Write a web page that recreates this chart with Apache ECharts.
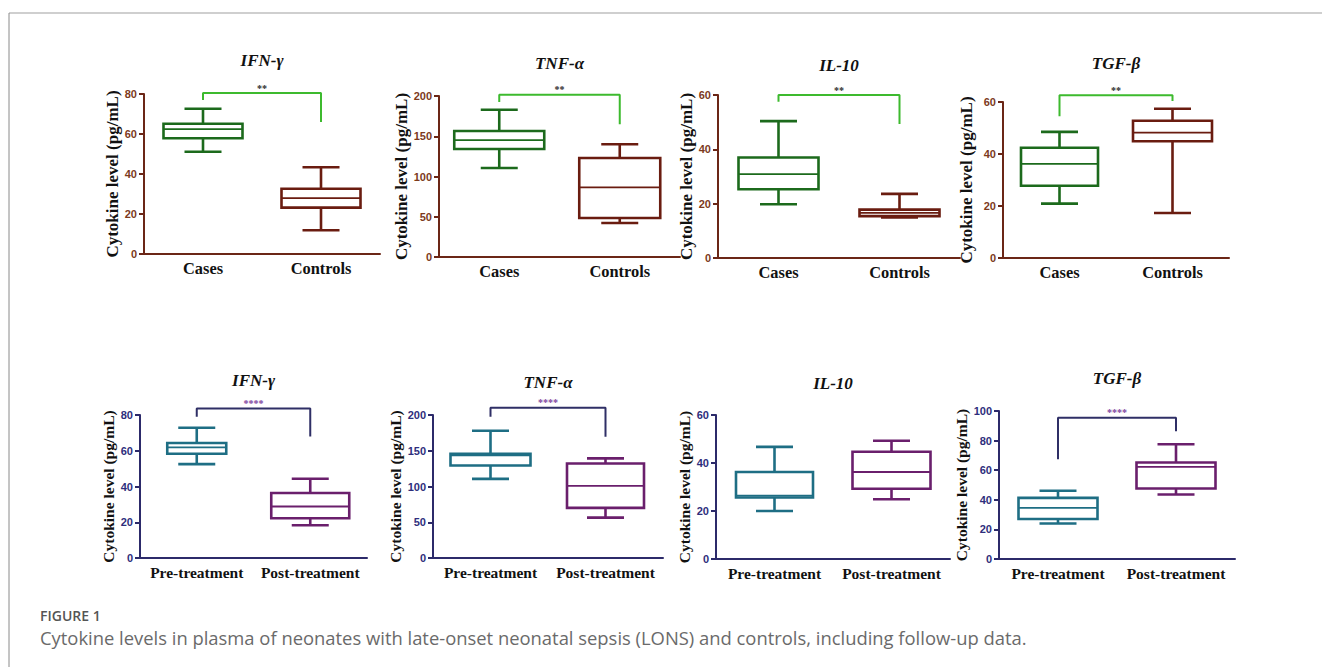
<!DOCTYPE html>
<html>
<head>
<meta charset="utf-8">
<style>
html, body { margin: 0; padding: 0; background: #fff; }
#main { width: 1322px; height: 667px; }
</style>
<script src="https://cdn.jsdelivr.net/npm/echarts@6/dist/echarts.min.js"></script>
</head>
<body>
<div id="main"></div>
<script>
// groups / cytokines
const topGroups = ['Cases', 'Controls'];
const followGroups = ['Pre-treatment', 'Post-treatment'];
const cytokines = ['IFN-γ', 'TNF-α', 'IL-10', 'TGF-β'];

// box values: [min, Q1, median, Q3, max] (pg/mL)
const ifnCases = [51.1, 57.9, 62.4, 65.1, 72.6];
const ifnControls = [11.9, 23.2, 27.9, 32.6, 43.4];
const tnfCases = [110.6, 134.2, 145.3, 156.5, 183];
const tnfControls = [42.2, 48.4, 86.5, 123, 140];
const il10Cases = [19.8, 25.3, 30.9, 37.0, 50.4];
const il10Controls = [14.9, 15.4, 16.6, 17.8, 23.6];
const tgfCases = [20.9, 27.8, 36.2, 42.4, 48.5];
const tgfControls = [17.3, 44.9, 48.2, 52.8, 57.4];

const ifnPre = [52.5, 58.3, 61.9, 64.3, 72.9];
const ifnPost = [18.3, 22.2, 28.8, 36.4, 44.3];
const tnfPre = [110.7, 129.4, 143.5, 145.8, 178];
const tnfPost = [56.5, 70.1, 100.9, 132.2, 139.3];
const il10Pre = [20, 25.6, 26.4, 36.25, 46.7];
const il10Post = [24.9, 29.3, 36.25, 44.7, 49.3];
const tgfPre = [24, 27, 34.6, 41.3, 46.1];
const tgfPost = [43.6, 47.6, 62.2, 65.2, 77.5];

// significance brackets: [left leg end, top, right leg end]
const ifnBracket = [77, 80.5, 66];
const tnfBracket = [192.5, 201.6, 165];
const il10Bracket = [57.5, 60, 49.3];
const tgfBracket = [54.5, 62.6, 60.4];
const ifnFollowBracket = [79, 83.7, 68];
const tnfFollowBracket = [197.7, 210, 169.6];
const tgfFollowBracket = [67.4, 95.5, 86.3];

// y axis ticks: [max, step]
const ticks20to80 = [80, 20];
const ticks50to200 = [200, 50];
const ticks20to60 = [60, 20];
const ticks20to100 = [100, 20];

const serif = '"Liberation Serif", "Times New Roman", serif';
const sans = '"Liberation Sans", Arial, sans-serif';

const rowStyle = [
  { axis: '#6b2616', label: '#7c3a1c', colors: ['#1c6a1c', '#6a1c10'], bracket: '#3dba2e',
    star: '#2b2b2b', stars: '**', nameSize: 17, catSize: 16.4 },
  { axis: '#2c2a6a', label: '#2e2e7c', colors: ['#1e6e84', '#6a1f6c'], bracket: '#2f2f66',
    star: '#7d3f9e', stars: '****', nameSize: 15.5, catSize: 15.5 }
];

const panels = [
  { row: 0, title: cytokines[0], cats: topGroups, boxes: [ifnCases, ifnControls], bracket: ifnBracket, ticks: ticks20to80,
    grid: { left: 144, top: 94, width: 236, height: 160 }, gap: 22, titleY: 60, widths: [79, 79] },
  { row: 0, title: cytokines[1], cats: topGroups, boxes: [tnfCases, tnfControls], bracket: tnfBracket, ticks: ticks50to200,
    grid: { left: 439, top: 96, width: 241, height: 161 }, gap: 29, titleY: 63, widths: [90, 81] },
  { row: 0, title: cytokines[2], cats: topGroups, boxes: [il10Cases, il10Controls], bracket: il10Bracket, ticks: ticks20to60,
    grid: { left: 718, top: 95, width: 242, height: 163 }, gap: 23, titleY: 65, widths: [80, 80] },
  { row: 0, title: cytokines[3], cats: topGroups, boxes: [tgfCases, tgfControls], bracket: tgfBracket, ticks: ticks20to60,
    grid: { left: 1003, top: 102, width: 226, height: 156 }, gap: 28, titleY: 63, widths: [77, 79] },
  { row: 1, title: cytokines[0], cats: followGroups, boxes: [ifnPre, ifnPost], bracket: ifnFollowBracket, ticks: ticks20to80,
    grid: { left: 140, top: 415, width: 227, height: 143 }, gap: 18, titleY: 380, widths: [59, 78] },
  { row: 1, title: cytokines[1], cats: followGroups, boxes: [tnfPre, tnfPost], bracket: tnfFollowBracket, ticks: ticks50to200,
    grid: { left: 433, top: 415, width: 230, height: 143 }, gap: 30, titleY: 382, widths: [80, 77] },
  { row: 1, title: cytokines[2], cats: followGroups, boxes: [il10Pre, il10Post], bracket: null, ticks: ticks20to60,
    grid: { left: 716, top: 415, width: 234, height: 144 }, gap: 23, titleY: 383, widths: [77, 78] },
  { row: 1, title: cytokines[3], cats: followGroups, boxes: [tgfPre, tgfPost], bracket: tgfFollowBracket, ticks: ticks20to100,
    grid: { left: 999, top: 411, width: 236, height: 148 }, gap: 26, titleY: 378, widths: [79, 79] }
];

// box + whiskers with short caps, drawn from the axis scale
function makeBox(widths, colors) {
  return function (params, api) {
    const k = api.value(0);
    const c = colors[params.dataIndex];
    const w = widths[params.dataIndex];
    const cap = 37;
    const p = [1, 2, 3, 4, 5].map(function (d) { return api.coord([k, api.value(d)]); });
    const x = p[0][0];
    const ln = function (x1, y1, x2, y2, lw) {
      return { type: 'line', shape: { x1: x1, y1: y1, x2: x2, y2: y2 }, style: { stroke: c, lineWidth: lw } };
    };
    return {
      type: 'group',
      children: [
        ln(x, p[3][1], x, p[4][1], 2.6),
        ln(x, p[1][1], x, p[0][1], 2.6),
        ln(x - cap / 2, p[4][1], x + cap / 2, p[4][1], 2.6),
        ln(x - cap / 2, p[0][1], x + cap / 2, p[0][1], 2.6),
        { type: 'rect', shape: { x: x - w / 2, y: p[3][1], width: w, height: p[1][1] - p[3][1] },
          style: { fill: '#fff', stroke: c, lineWidth: 2.6 } },
        ln(x - w / 2, p[2][1], x + w / 2, p[2][1], 1.8)
      ]
    };
  };
}

const option = {
  animation: false,
  backgroundColor: '#fff',
  grid: [], xAxis: [], yAxis: [], series: [],
  graphic: [
    { type: 'line', shape: { x1: 9, y1: 13, x2: 1322, y2: 13 }, style: { stroke: '#cfcfcf', lineWidth: 2 } },
    { type: 'line', shape: { x1: 9, y1: 13, x2: 9, y2: 667 }, style: { stroke: '#8a8a8a', lineWidth: 1 } },
    { type: 'text', x: 40, y: 615, style: { text: 'FIGURE 1', fill: '#555', font: '600 14px "Open Sans", sans-serif',
      verticalAlign: 'middle' } },
    { type: 'text', x: 40, y: 637, style: { text: 'Cytokine levels in plasma of neonates with late-onset neonatal sepsis (LONS) and controls, including follow-up data.',
      fill: '#6a6a6a', font: '18.4px "Open Sans", sans-serif', verticalAlign: 'middle' } }
  ]
};

panels.forEach(function (p, i) {
  const s = rowStyle[p.row];
  option.grid.push(p.grid);
  option.xAxis.push({
    type: 'category', gridIndex: i, data: p.cats,
    axisLine: { lineStyle: { color: s.axis, width: 2 } },
    axisTick: { alignWithLabel: true, length: 5, lineStyle: { color: s.axis, width: 2 } },
    axisLabel: { interval: 0, color: '#111', fontFamily: serif, fontWeight: 'bold', fontSize: s.catSize, margin: 6 },
    splitLine: { show: false }
  });
  option.yAxis.push({
    type: 'value', gridIndex: i, min: 0, max: p.ticks[0], interval: p.ticks[1],
    name: 'Cytokine level (pg/mL)', nameLocation: 'middle', nameGap: p.gap, nameRotate: 90,
    nameTextStyle: { color: '#111', fontFamily: serif, fontWeight: 'bold', fontSize: s.nameSize },
    axisLine: { show: true, lineStyle: { color: s.axis, width: 2 } },
    axisTick: { show: true, length: 5, lineStyle: { color: s.axis, width: 2 } },
    axisLabel: { color: s.label, fontFamily: sans, fontWeight: 'bold', fontSize: 11, margin: 7 },
    splitLine: { show: false }
  });
  option.series.push({
    type: 'custom', xAxisIndex: i, yAxisIndex: i, silent: true, clip: false,
    renderItem: makeBox(p.widths, s.colors),
    encode: { x: 0, y: [1, 2, 3, 4, 5] },
    data: p.boxes.map(function (b, k) { return [k].concat(b); })
  });
  if (p.bracket) {
    const b = p.bracket;
    option.series.push({
      type: 'line', xAxisIndex: i, yAxisIndex: i, silent: true, clip: false, symbol: 'none',
      lineStyle: { color: s.bracket, width: 2 },
      data: [[p.cats[0], b[0]], [p.cats[0], b[1]], [p.cats[1], b[1]], [p.cats[1], b[2]]]
    });
  }
  option.graphic.push({
    type: 'text', x: p.grid.left + p.grid.width / 2, y: p.titleY,
    style: { text: p.title, fill: '#111', font: 'italic bold 17px ' + serif, align: 'center', verticalAlign: 'middle' }
  });
});

const myChart = echarts.init(document.getElementById('main'), null, { renderer: 'svg' });
myChart.setOption(option);

// significance stars centred over each bracket, placed via the axis scales
const stars = [];
panels.forEach(function (p, i) {
  if (!p.bracket) return;
  const s = rowStyle[p.row];
  const a = myChart.convertToPixel({ gridIndex: i }, [p.cats[0], p.bracket[1]]);
  const b = myChart.convertToPixel({ gridIndex: i }, [p.cats[1], p.bracket[1]]);
  stars.push({
    type: 'text', x: (a[0] + b[0]) / 2, y: a[1] - 5,
    style: { text: s.stars, fill: s.star, font: 'bold 10px ' + serif, align: 'center', verticalAlign: 'middle' }
  });
});
myChart.setOption({ graphic: option.graphic.concat(stars) });
</script>
</body>
</html>
